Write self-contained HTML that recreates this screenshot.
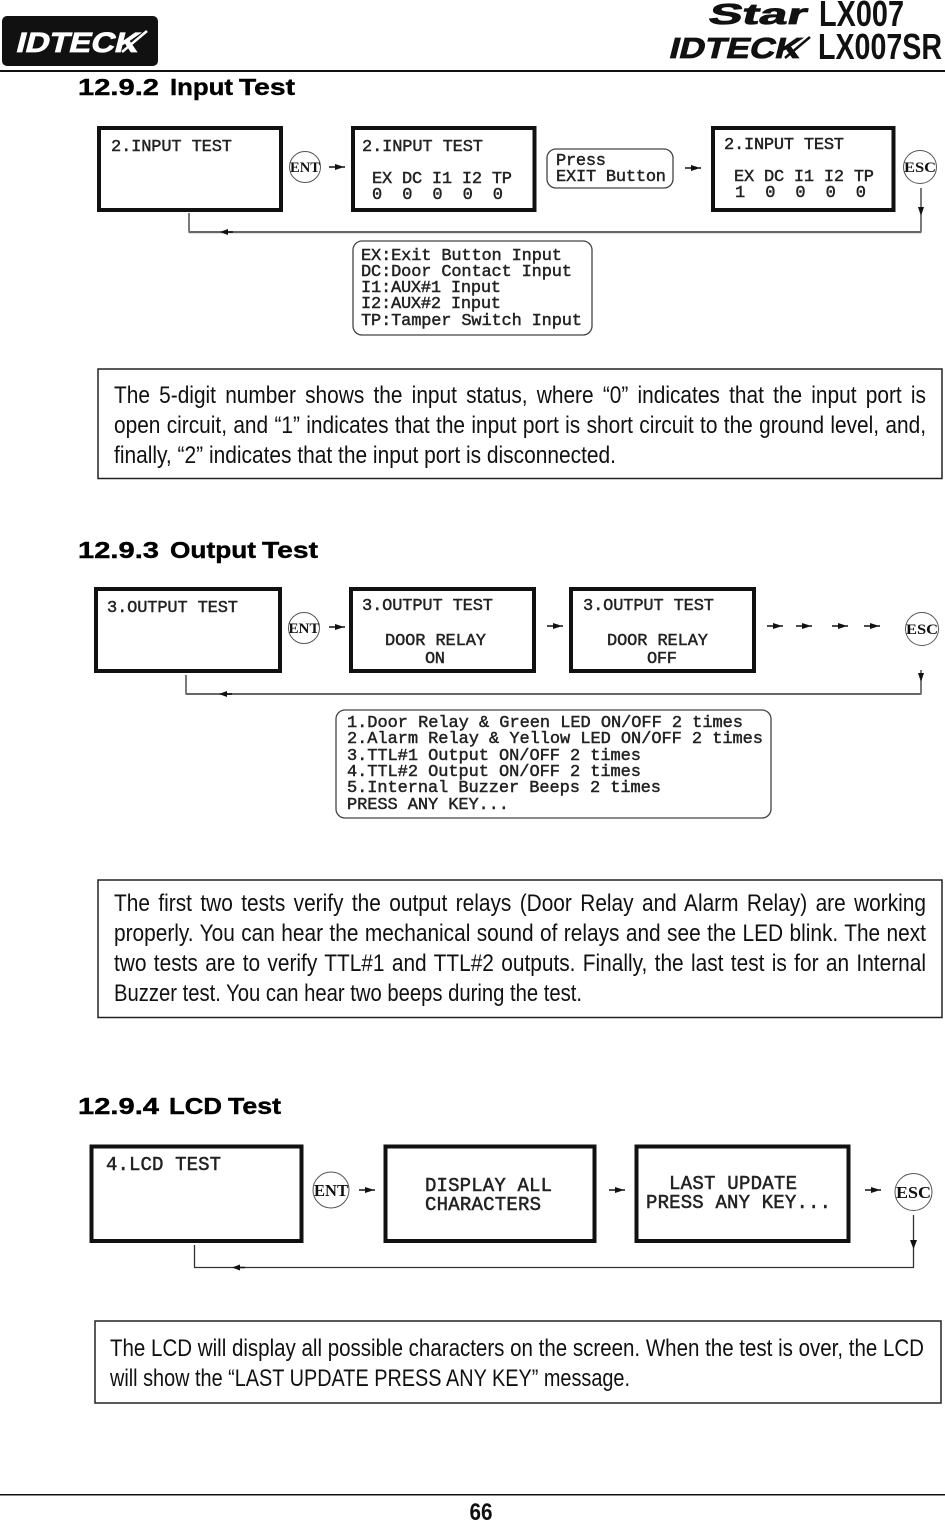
<!DOCTYPE html>
<html><head><meta charset="utf-8"><style>
html,body{margin:0;padding:0;background:#fff}
body{position:relative;width:945px;height:1521px;overflow:hidden}
svg{display:block}
.m{font-family:"Liberation Mono",monospace;font-size:17px;fill:#222;stroke:#222;stroke-width:.45}
.m2{font-family:"Liberation Mono",monospace;font-size:19px;fill:#222;stroke:#222;stroke-width:.5}
.p{font-family:"Liberation Sans",sans-serif;font-size:24px;fill:#111}
.h{font-family:"Liberation Sans",sans-serif;font-size:23px;font-weight:bold;fill:#000;stroke:#000;stroke-width:.4}
.c{font-family:"Liberation Serif",serif;font-weight:bold;fill:#111;text-anchor:middle}
.b{fill:#fff;stroke:#111;stroke-width:4}
.r{fill:#fff;stroke:#444;stroke-width:1.3}
.l{fill:none;stroke:#333;stroke-width:1.3}
.o{fill:#fff;stroke:#555;stroke-width:1}
.j{position:absolute;font-family:"Liberation Sans",sans-serif;font-size:24px;line-height:30px;height:30px;color:#111;text-align:justify;text-align-last:justify;transform:scaleX(.869);transform-origin:0 0}
</style></head><body>
<svg width="945" height="1521" viewBox="0 0 945 1521" xmlns="http://www.w3.org/2000/svg" xml:space="preserve">
<defs>
<g id="al"><path d="M0 0L8 -3V-.7H13V.7H8V3Z" fill="#111"/></g>
<g id="ar"><path d="M0 -.7H6V-3L13 -.7H16V.7H13L6 3V.7H0Z" fill="#111"/></g>
</defs>

<!-- header -->
<rect x="2" y="16" width="156" height="50" rx="5" fill="#111"/>
<g transform="translate(15 52) skewX(-14)"><text x="0" y="0" font-family="Liberation Sans,sans-serif" font-size="28" font-weight="bold" fill="#fff" stroke="#fff" stroke-width=".8" textLength="122" lengthAdjust="spacingAndGlyphs">IDTECK</text></g>
<path d="M122 52L147 31" stroke="#fff" stroke-width="2.500"/>
<g transform="translate(707 24) skewX(-14)"><text x="0" y="0" font-family="Liberation Sans,sans-serif" font-size="29" font-weight="bold" fill="#111" stroke="#111" stroke-width=".8" textLength="98" lengthAdjust="spacingAndGlyphs">Star</text></g>
<text x="819" y="26" font-family="Liberation Sans,sans-serif" font-size="36" font-weight="bold" fill="#111" textLength="85" lengthAdjust="spacingAndGlyphs">LX007</text>
<g transform="translate(668 58) skewX(-14)"><text x="0" y="0" font-family="Liberation Sans,sans-serif" font-size="29" font-weight="bold" fill="#111" stroke="#111" stroke-width=".8" textLength="131" lengthAdjust="spacingAndGlyphs">IDTECK</text></g>
<path d="M785 58L810 37" stroke="#111" stroke-width="2.500"/>
<text x="818" y="59" font-family="Liberation Sans,sans-serif" font-size="36" font-weight="bold" fill="#111" textLength="124" lengthAdjust="spacingAndGlyphs">LX007SR</text>
<rect x="0" y="70" width="945" height="2" fill="#111"/>

<!-- 12.9.2 -->
<text class="h" x="78" y="95" textLength="81" lengthAdjust="spacingAndGlyphs">12.9.2</text>
<text class="h" x="170" y="95" textLength="63" lengthAdjust="spacingAndGlyphs">Input</text>
<text class="h" x="239" y="95" textLength="56" lengthAdjust="spacingAndGlyphs">Test</text>
<rect class="b" x="99" y="128" width="182" height="82"/>
<rect class="b" x="353" y="128" width="181.500" height="82"/>
<rect class="b" x="713" y="128" width="180.500" height="82"/>
<text class="m" x="111" y="151" textLength="121">2.INPUT TEST</text>
<text class="m" x="362" y="151" textLength="121">2.INPUT TEST</text>
<text class="m" x="372" y="183" textLength="140">EX DC I1 I2 TP</text>
<text class="m" x="372" y="199" textLength="131">0  0  0  0  0</text>
<text class="m" x="724" y="149" textLength="120">2.INPUT TEST</text>
<text class="m" x="734" y="181" textLength="140">EX DC I1 I2 TP</text>
<text class="m" x="735" y="197" textLength="131">1  0  0  0  0</text>
<circle class="o" cx="305" cy="167" r="15.500"/>
<text class="c" x="305" y="172" font-size="15" textLength="30" lengthAdjust="spacingAndGlyphs">ENT</text>
<use href="#ar" x="329" y="167"/>
<rect class="r" x="547" y="149" width="126" height="39" rx="9"/>
<text class="m" x="556" y="165" textLength="50">Press</text>
<text class="m" x="556" y="181" textLength="110">EXIT Button</text>
<use href="#ar" x="685" y="168"/>
<circle class="o" cx="920" cy="167" r="16.500"/>
<text class="c" x="920" y="172" font-size="15" textLength="32" lengthAdjust="spacingAndGlyphs">ESC</text>
<path class="l" d="M189 213V232M921 188V232"/>
<rect x="188.500" y="231" width="733" height="2.200" fill="#666"/>
<use href="#al" x="220" y="232"/>
<path d="M921 216L918 207H924Z" fill="#111"/>
<rect class="r" x="353" y="241" width="239" height="94" rx="9"/>
<text class="m" x="361" y="260" textLength="201">EX:Exit Button Input</text>
<text class="m" x="361" y="276" textLength="211">DC:Door Contact Input</text>
<text class="m" x="361" y="292" textLength="140">I1:AUX#1 Input</text>
<text class="m" x="361" y="308" textLength="140">I2:AUX#2 Input</text>
<text class="m" x="361" y="325" textLength="221">TP:Tamper Switch Input</text>

<rect x="98" y="369" width="844" height="109.500" fill="#fff" stroke="#222" stroke-width="1.500"/>
<text class="p" x="114" y="463" textLength="502" lengthAdjust="spacingAndGlyphs">finally, “2” indicates that the input port is disconnected.</text>

<!-- 12.9.3 -->
<text class="h" x="78" y="558" textLength="81" lengthAdjust="spacingAndGlyphs">12.9.3</text>
<text class="h" x="170" y="558" textLength="86" lengthAdjust="spacingAndGlyphs">Output</text>
<text class="h" x="262" y="558" textLength="56" lengthAdjust="spacingAndGlyphs">Test</text>
<rect class="b" x="96" y="589" width="184" height="82"/>
<rect class="b" x="351" y="589" width="183" height="82"/>
<rect class="b" x="571" y="589" width="183" height="82"/>
<text class="m" x="107" y="612" textLength="131">3.OUTPUT TEST</text>
<text class="m" x="362" y="610" textLength="131">3.OUTPUT TEST</text>
<text class="m" x="385" y="645" textLength="101">DOOR RELAY</text>
<text class="m" x="425" y="663" textLength="20">ON</text>
<text class="m" x="583" y="610" textLength="131">3.OUTPUT TEST</text>
<text class="m" x="607" y="645" textLength="101">DOOR RELAY</text>
<text class="m" x="647" y="663" textLength="30">OFF</text>
<circle class="o" cx="304" cy="628" r="15.500"/>
<text class="c" x="304" y="633" font-size="15" textLength="31" lengthAdjust="spacingAndGlyphs">ENT</text>
<use href="#ar" x="329" y="627"/>
<use href="#ar" x="547" y="626"/>
<use href="#ar" x="767" y="626"/>
<use href="#ar" x="796" y="626"/>
<use href="#ar" x="832" y="626"/>
<use href="#ar" x="864" y="626"/>
<circle class="o" cx="922" cy="629" r="16.500"/>
<text class="c" x="922" y="634" font-size="15" textLength="32" lengthAdjust="spacingAndGlyphs">ESC</text>
<path class="l" d="M186 675V694M921 670V694"/>
<rect x="185.500" y="693" width="736" height="2" fill="#666"/>
<use href="#al" x="219" y="694"/>
<path d="M921 682L918 673H924Z" fill="#111"/>
<rect class="r" x="336" y="710" width="435" height="108" rx="9"/>
<text class="m" x="347" y="727" textLength="396">1.Door Relay &amp; Green LED ON/OFF 2 times</text>
<text class="m" x="347" y="743" textLength="416">2.Alarm Relay &amp; Yellow LED ON/OFF 2 times</text>
<text class="m" x="347" y="760" textLength="294">3.TTL#1 Output ON/OFF 2 times</text>
<text class="m" x="347" y="776" textLength="294">4.TTL#2 Output ON/OFF 2 times</text>
<text class="m" x="347" y="792" textLength="314">5.Internal Buzzer Beeps 2 times</text>
<text class="m" x="347" y="809" textLength="162">PRESS ANY KEY...</text>

<rect x="98" y="880" width="844" height="137.500" fill="#fff" stroke="#222" stroke-width="1.500"/>
<text class="p" x="114" y="1001" textLength="468" lengthAdjust="spacingAndGlyphs">Buzzer test. You can hear two beeps during the test.</text>

<!-- 12.9.4 -->
<text class="h" x="78" y="1114" textLength="81" lengthAdjust="spacingAndGlyphs">12.9.4</text>
<text class="h" x="169" y="1114" textLength="53" lengthAdjust="spacingAndGlyphs">LCD</text>
<text class="h" x="228" y="1114" textLength="53" lengthAdjust="spacingAndGlyphs">Test</text>
<rect class="b" x="91.500" y="1146.500" width="210" height="94.500"/>
<rect class="b" x="385.500" y="1146.500" width="209" height="94.500"/>
<rect class="b" x="636.500" y="1146.500" width="212" height="94.500"/>
<text class="m2" x="106" y="1170" textLength="115">4.LCD TEST</text>
<text class="m2" x="425" y="1191" textLength="127">DISPLAY ALL</text>
<text class="m2" x="425" y="1210" textLength="116">CHARACTERS</text>
<text class="m2" x="669" y="1189" textLength="128">LAST UPDATE</text>
<text class="m2" x="646" y="1208" textLength="185">PRESS ANY KEY...</text>
<circle class="o" cx="331" cy="1190" r="18"/>
<text class="c" x="331" y="1196" font-size="17" textLength="34" lengthAdjust="spacingAndGlyphs">ENT</text>
<use href="#ar" x="359" y="1190"/>
<use href="#ar" x="609" y="1190"/>
<use href="#ar" x="865" y="1190"/>
<circle class="o" cx="913.500" cy="1192" r="18.500"/>
<text class="c" x="913.500" y="1198" font-size="17" textLength="35" lengthAdjust="spacingAndGlyphs">ESC</text>
<path class="l" d="M194.500 1245V1267.500H913.500V1215"/>
<use href="#al" x="232" y="1267.500"/>
<path d="M913.500 1249L910 1240H917Z" fill="#111"/>

<rect x="95" y="1321" width="846" height="82" fill="#fff" stroke="#222" stroke-width="1.500"/>
<text class="p" x="110" y="1386" textLength="520" lengthAdjust="spacingAndGlyphs">will show the “LAST UPDATE PRESS ANY KEY” message.</text>
<text class="p" x="110" y="1356" textLength="814" lengthAdjust="spacingAndGlyphs">The LCD will display all possible characters on the screen. When the test is over, the LCD</text>

<!-- footer -->
<rect x="0" y="1494" width="945" height="1.500" fill="#111"/>
<text x="481" y="1520" font-family="Liberation Sans,sans-serif" font-size="24" font-weight="bold" fill="#111" text-anchor="middle" textLength="23" lengthAdjust="spacingAndGlyphs">66</text>
</svg>
<div class="j" style="left:114px;top:380.500px;width:934.400px">The 5-digit number shows the input status, where “0” indicates that the input port is</div>
<div class="j" style="left:114px;top:410.500px;width:934.400px">open circuit, and “1” indicates that the input port is short circuit to the ground level, and,</div>
<div class="j" style="left:114px;top:888.500px;width:934.400px">The first two tests verify the output relays (Door Relay and Alarm Relay) are working</div>
<div class="j" style="left:114px;top:918.500px;width:934.400px">properly. You can hear the mechanical sound of relays and see the LED blink. The next</div>
<div class="j" style="left:114px;top:948.500px;width:934.400px">two tests are to verify TTL#1 and TTL#2 outputs. Finally, the last test is for an Internal</div>
</body></html>
